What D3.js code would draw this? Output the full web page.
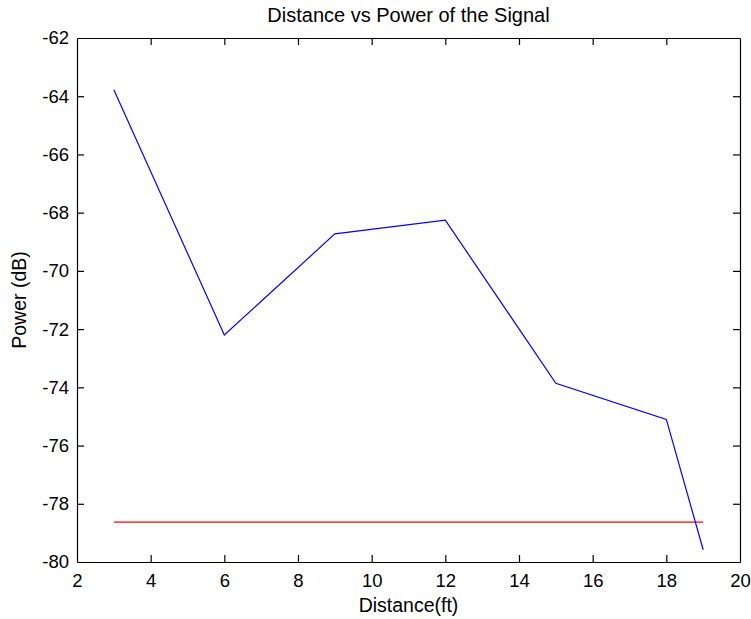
<!DOCTYPE html>
<html>
<head>
<meta charset="utf-8">
<script src="https://cdn.jsdelivr.net/npm/d3@7"></script>
<style>
  html, body { margin: 0; padding: 0; background: #fff; }
  svg { display: block; }
  text { font-family: "Liberation Sans", Arial, Helvetica, sans-serif; fill: #000; }
</style>
</head>
<body>
<svg id="chart" width="751" height="619"></svg>
<script>
// Measured signal power at each distance
const distance = [3, 6, 9, 12, 15, 18, 19];
const power = [-63.78, -72.2, -68.73, -68.26, -73.86, -75.1, -79.58];

// Threshold level drawn across the measured range
const thresholdX = [3, 19];
const thresholdY = -78.63;

const xTicks = [2, 4, 6, 8, 10, 12, 14, 16, 18, 20];
const yTicks = [-80, -78, -76, -74, -72, -70, -68, -66, -64, -62];

const titleText = "Distance vs Power of the Signal";
const xLabel = "Distance(ft)";
const yLabel = "Power (dB)";

const W = 751, H = 619;
const m = { left: 77, right: 11, top: 38, bottom: 57 };
const pw = W - m.left - m.right, ph = H - m.top - m.bottom;

const svg = d3.select("#chart");
const g = svg.append("g").attr("transform", `translate(${m.left},${m.top})`);

const x = d3.scaleLinear().domain([2, 20]).range([0, pw]);
const y = d3.scaleLinear().domain([-80, -62]).range([ph, 0]);

const tickFs = 18.5;
const labelFs = 19.5;
const tickLen = 7;

// Frame axes with inward ticks on all four sides
const axBottom = g.append("g").attr("transform", `translate(0,${ph})`)
  .call(d3.axisBottom(x).tickValues(xTicks).tickSizeInner(-tickLen).tickSizeOuter(0).tickPadding(12));
const axTop = g.append("g")
  .call(d3.axisTop(x).tickValues(xTicks).tickSizeInner(-tickLen).tickSizeOuter(0).tickFormat(""));
const axLeft = g.append("g")
  .call(d3.axisLeft(y).tickValues(yTicks).tickSizeInner(-tickLen).tickSizeOuter(0).tickPadding(8).tickFormat(d3.format("d")));
const axRight = g.append("g").attr("transform", `translate(${pw},0)`)
  .call(d3.axisRight(y).tickValues(yTicks).tickSizeInner(-tickLen).tickSizeOuter(0).tickFormat(""));

[axBottom, axTop, axLeft, axRight].forEach(a => {
  a.select(".domain").attr("stroke", "#000").attr("stroke-width", 1.2);
  a.selectAll(".tick line").attr("stroke", "#000").attr("stroke-width", 1.2);
  a.selectAll(".tick text").attr("font-size", tickFs).attr("font-family", "Liberation Sans, Arial, sans-serif");
});
// drop end ticks that sit on the frame corners
[axBottom, axTop].forEach(a => a.selectAll(".tick").filter(d => d === 2 || d === 20).select("line").remove());
[axLeft, axRight].forEach(a => a.selectAll(".tick").filter(d => d === -80 || d === -62).select("line").remove());
axLeft.selectAll(".tick text").text(d => String(d));

// Red threshold line
g.append("path")
  .attr("fill", "none").attr("stroke", "#ff0000").attr("stroke-width", 1.4)
  .attr("d", d3.line()([[x(thresholdX[0]), y(thresholdY)], [x(thresholdX[1]), y(thresholdY)]]));

// Blue measured power line
const pts = distance.map((d, i) => [d, power[i]]);
g.append("path").datum(pts)
  .attr("fill", "none").attr("stroke", "#0000ff").attr("stroke-width", 1.2)
  .attr("d", d3.line().x(d => x(d[0])).y(d => y(d[1])));

// Titles
svg.append("text").attr("x", m.left + pw / 2).attr("y", 22)
  .attr("text-anchor", "middle").attr("font-size", labelFs + 0.5).text(titleText);
svg.append("text").attr("x", m.left + pw / 2).attr("y", 612)
  .attr("text-anchor", "middle").attr("font-size", labelFs).text(xLabel);
svg.append("text").attr("transform", `translate(25.5,${m.top + ph / 2}) rotate(-90)`)
  .attr("text-anchor", "middle").attr("font-size", labelFs).text(yLabel);
</script>
</body>
</html>
